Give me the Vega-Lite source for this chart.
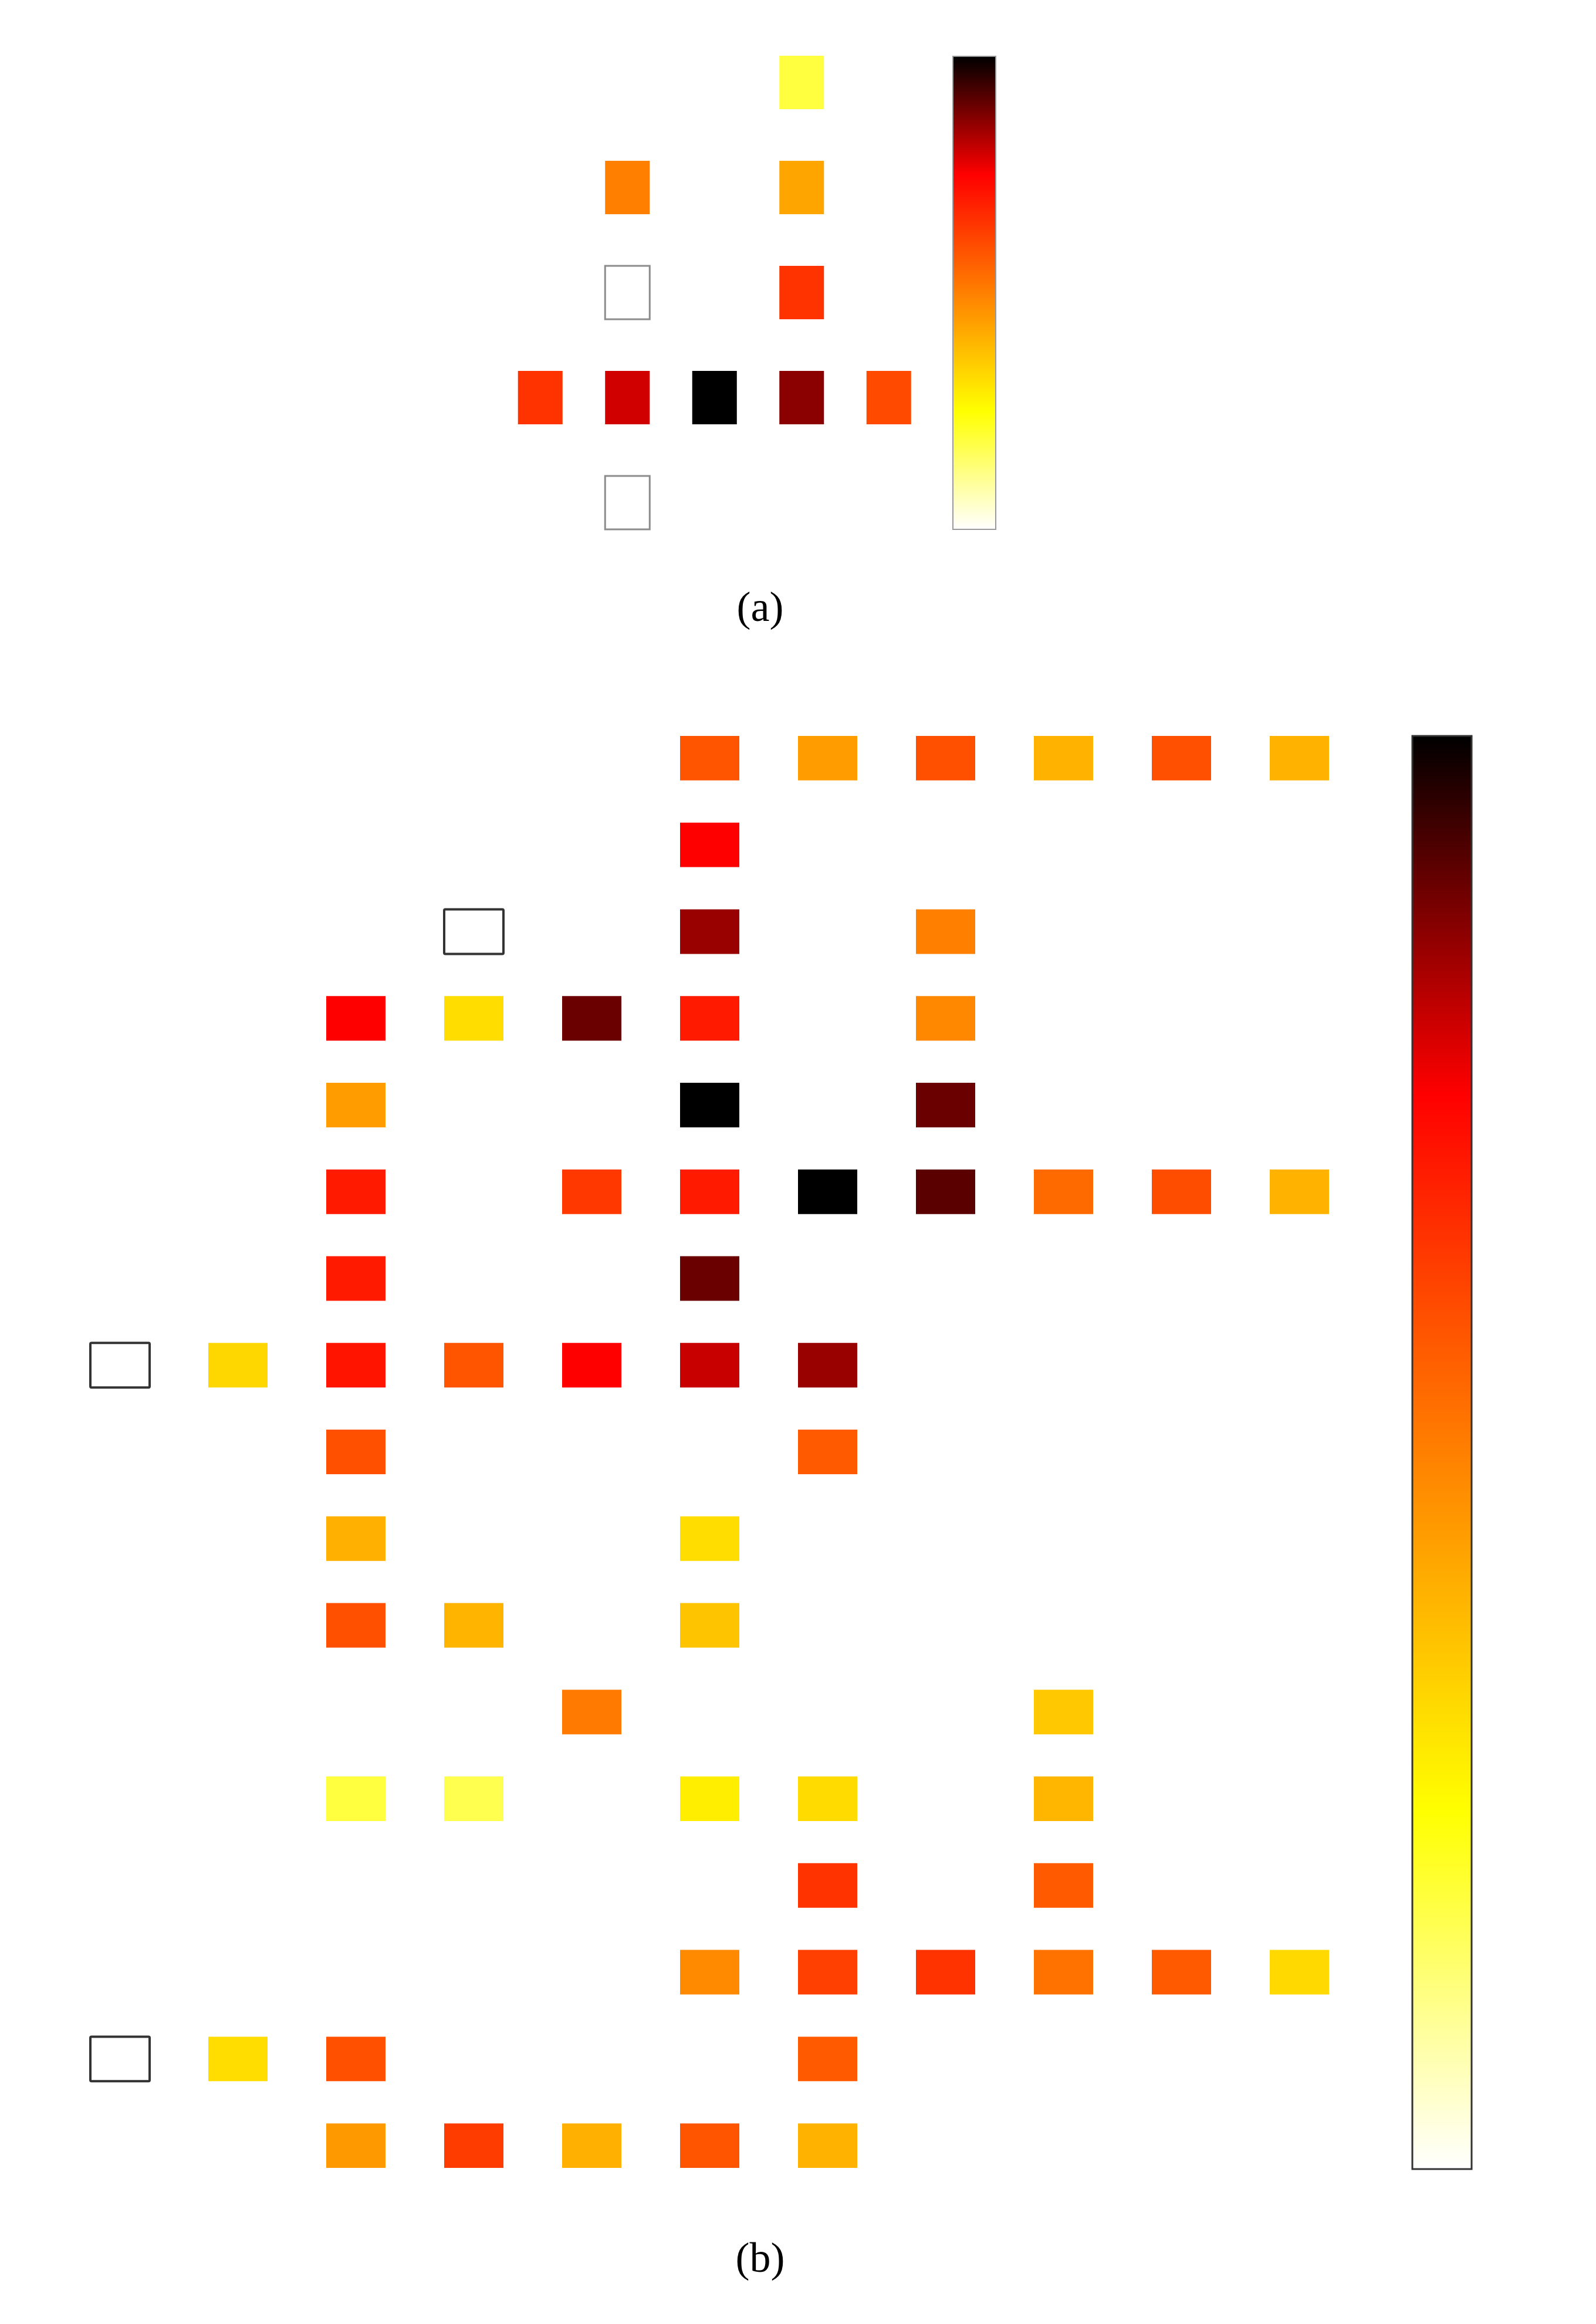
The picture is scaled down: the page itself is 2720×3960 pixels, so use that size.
{
  "$schema": "https://vega.github.io/schema/vega-lite/v6.json",
  "padding": {"left": 104, "top": 51, "right": 0, "bottom": 50},
  "background": "white",
  "spacing": 146,
  "config": {
    "view": {"stroke": null},
    "title": {"font": "Liberation Serif", "fontSize": 72, "fontWeight": "normal", "color": "#000000"}
  },
  "resolve": {
    "scale": {"x": "independent", "y": "independent", "color": "independent"},
    "legend": {"color": "independent"}
  },
  "vconcat": [
    {
      "width": 1485,
      "height": 895,
      "data": {"values": [
        {"col": 8, "row": 0, "v": 0.187},
        {"col": 6, "row": 1, "v": 0.5},
        {"col": 8, "row": 1, "v": 0.426},
        {"col": 6, "row": 2, "v": null},
        {"col": 8, "row": 2, "v": 0.65},
        {"col": 5, "row": 3, "v": 0.65},
        {"col": 6, "row": 3, "v": 0.796},
        {"col": 7, "row": 3, "v": 1.0},
        {"col": 8, "row": 3, "v": 0.864},
        {"col": 9, "row": 3, "v": 0.605},
        {"col": 6, "row": 4, "v": null}
      ]},
      "title": {"text": "(a)", "orient": "bottom", "anchor": "middle", "frame": "group", "offset": 55, "dx": 449},
      "encoding": {
        "x": {"field": "col", "type": "ordinal", "axis": null,
              "scale": {"domain": [0,1,2,3,4,5,6,7,8,9], "paddingInner": 0.488, "paddingOuter": 0.244}},
        "y": {"field": "row", "type": "ordinal", "axis": null,
              "scale": {"domain": [0,1,2,3,4], "paddingInner": 0.492, "paddingOuter": 0.246}}
      },
      "layer": [
        {
          "transform": [{"filter": "datum.v != null"}],
          "mark": {"type": "rect"},
          "encoding": {
            "color": {"field": "v", "type": "quantitative",
              "scale": {"domain": [0, 0.25, 0.75, 1], "range": ["#ffffff", "#ffff00", "#ff0000", "#000000"], "interpolate": "rgb"},
              "legend": {"orient": "none", "legendX": 1520, "legendY": 45, "direction": "vertical",
                         "gradientLength": 806, "gradientThickness": 73, "labelExpr": "''", "labelOpacity": 0, "labelFontSize": 1, "title": null,
                         "gradientStrokeColor": "#999999", "gradientStrokeWidth": 2, "padding": 0}}
          }
        },
        {
          "transform": [{"filter": "datum.v == null"}],
          "mark": {"type": "rect", "fill": "#ffffff", "stroke": "#8c8c8c", "strokeWidth": 3},
          "encoding": {}
        }
      ]
    },
    {
      "width": 2211,
      "height": 2512,
      "data": {"values": [
        {"col": 5, "row": 0, "v": 0.583},
        {"col": 6, "row": 0, "v": 0.444},
        {"col": 7, "row": 0, "v": 0.593},
        {"col": 8, "row": 0, "v": 0.399},
        {"col": 9, "row": 0, "v": 0.595},
        {"col": 10, "row": 0, "v": 0.399},
        {"col": 5, "row": 1, "v": 0.75},
        {"col": 3, "row": 2, "v": null},
        {"col": 5, "row": 2, "v": 0.85},
        {"col": 7, "row": 2, "v": 0.5},
        {"col": 2, "row": 3, "v": 0.75},
        {"col": 3, "row": 3, "v": 0.317},
        {"col": 4, "row": 3, "v": 0.895},
        {"col": 5, "row": 3, "v": 0.70},
        {"col": 7, "row": 3, "v": 0.483},
        {"col": 2, "row": 4, "v": 0.444},
        {"col": 5, "row": 4, "v": 1.0},
        {"col": 7, "row": 4, "v": 0.895},
        {"col": 2, "row": 5, "v": 0.70},
        {"col": 4, "row": 5, "v": 0.64},
        {"col": 5, "row": 5, "v": 0.70},
        {"col": 6, "row": 5, "v": 1.0},
        {"col": 7, "row": 5, "v": 0.912},
        {"col": 8, "row": 5, "v": 0.542},
        {"col": 9, "row": 5, "v": 0.599},
        {"col": 10, "row": 5, "v": 0.399},
        {"col": 2, "row": 6, "v": 0.70},
        {"col": 5, "row": 6, "v": 0.895},
        {"col": 0, "row": 7, "v": null},
        {"col": 1, "row": 7, "v": 0.328},
        {"col": 2, "row": 7, "v": 0.71},
        {"col": 3, "row": 7, "v": 0.583},
        {"col": 4, "row": 7, "v": 0.75},
        {"col": 5, "row": 7, "v": 0.804},
        {"col": 6, "row": 7, "v": 0.85},
        {"col": 2, "row": 8, "v": 0.593},
        {"col": 6, "row": 8, "v": 0.574},
        {"col": 2, "row": 9, "v": 0.405},
        {"col": 5, "row": 9, "v": 0.317},
        {"col": 2, "row": 10, "v": 0.593},
        {"col": 3, "row": 10, "v": 0.397},
        {"col": 5, "row": 10, "v": 0.366},
        {"col": 4, "row": 11, "v": 0.511},
        {"col": 8, "row": 11, "v": 0.358},
        {"col": 2, "row": 12, "v": 0.187},
        {"col": 3, "row": 12, "v": 0.172},
        {"col": 5, "row": 12, "v": 0.283},
        {"col": 6, "row": 12, "v": 0.32},
        {"col": 8, "row": 12, "v": 0.393},
        {"col": 6, "row": 13, "v": 0.65},
        {"col": 8, "row": 13, "v": 0.574},
        {"col": 5, "row": 14, "v": 0.479},
        {"col": 6, "row": 14, "v": 0.625},
        {"col": 7, "row": 14, "v": 0.65},
        {"col": 8, "row": 14, "v": 0.526},
        {"col": 9, "row": 14, "v": 0.574},
        {"col": 10, "row": 14, "v": 0.324},
        {"col": 0, "row": 15, "v": null},
        {"col": 1, "row": 15, "v": 0.317},
        {"col": 2, "row": 15, "v": 0.593},
        {"col": 6, "row": 15, "v": 0.574},
        {"col": 2, "row": 16, "v": 0.45},
        {"col": 3, "row": 16, "v": 0.632},
        {"col": 4, "row": 16, "v": 0.405},
        {"col": 5, "row": 16, "v": 0.583},
        {"col": 6, "row": 16, "v": 0.399}
      ]},
      "title": {"text": "(b)", "orient": "bottom", "anchor": "middle", "frame": "group", "offset": 84, "dx": 86},
      "encoding": {
        "x": {"field": "col", "type": "ordinal", "axis": null,
              "scale": {"domain": [0,1,2,3,4,5,6,7,8,9,10], "paddingInner": 0.4975, "paddingOuter": 0.24875}},
        "y": {"field": "row", "type": "ordinal", "axis": null,
              "scale": {"domain": [0,1,2,3,4,5,6,7,8,9,10,11,12,13,14,15,16], "paddingInner": 0.486, "paddingOuter": 0.243}}
      },
      "layer": [
        {
          "transform": [{"filter": "datum.v != null"}],
          "mark": {"type": "rect"},
          "encoding": {
            "color": {"field": "v", "type": "quantitative",
              "scale": {"domain": [0, 0.25, 0.75, 1], "range": ["#ffffff", "#ffff00", "#ff0000", "#000000"], "interpolate": "rgb"},
              "legend": {"orient": "none", "legendX": 2303, "legendY": 36, "direction": "vertical",
                         "gradientLength": 2442, "gradientThickness": 101, "labelExpr": "''", "labelOpacity": 0, "labelFontSize": 1, "title": null,
                         "gradientStrokeColor": "#333333", "gradientStrokeWidth": 3, "padding": 0}}
          }
        },
        {
          "transform": [{"filter": "datum.v == null"}],
          "mark": {"type": "rect", "fill": "#ffffff", "stroke": "#333333", "strokeWidth": 4, "cornerRadius": 2},
          "encoding": {}
        }
      ]
    }
  ]
}
